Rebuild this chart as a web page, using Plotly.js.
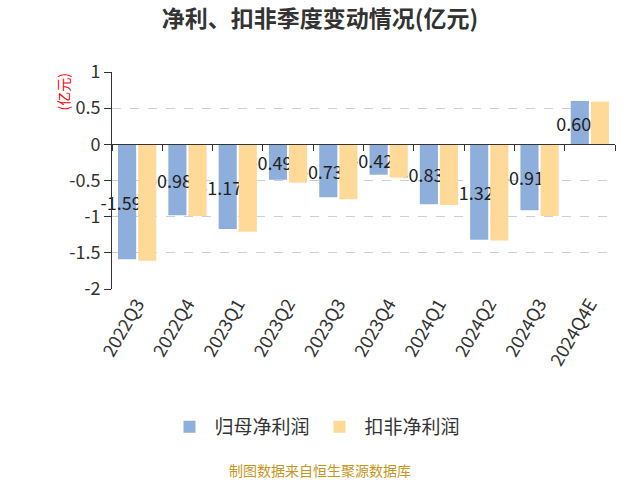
<!DOCTYPE html>
<html><head><meta charset="utf-8">
<script src="https://cdn.plot.ly/plotly-3.0.1.min.js"></script>
<style>html,body{margin:0;padding:0;background:#fff}#chart{width:640px;height:480px}</style>
</head><body><div id="chart"></div>
<script>
var quarters = ['2022Q3','2022Q4','2023Q1','2023Q2','2023Q3','2023Q4','2024Q1','2024Q2','2024Q3','2024Q4E'];
var netProfit = [-1.59,-0.98,-1.17,-0.49,-0.73,-0.42,-0.83,-1.32,-0.91,0.60];
var deductedProfit = [-1.61,-0.99,-1.21,-0.53,-0.76,-0.46,-0.84,-1.33,-0.99,0.59];
var yTickVals = [1,0.5,0,-0.5,-1,-1.5,-2];
var yTickText = ['1','0.5','0','-0.5','-1','-1.5','-2'];
var seriesNames = ['归母净利润','扣非净利润'];

var FONT = '"Noto Sans CJK SC", "Noto Sans", sans-serif';
// labels sit slightly left of the blue bar centre (right-padded with no-break spaces)
var PAD = '\u00a0\u00a0\u00a0';
var netLabels = netProfit.map(function(v){return v.toFixed(2) + PAD;});

var traces = [
  {type:'bar', name:seriesNames[0], x:quarters, y:netProfit, xaxis:'x', yaxis:'y',
   marker:{color:'#8eaedb'}, text:netLabels, textposition:'inside', insidetextanchor:'middle',
   textangle:0, constraintext:'none', cliponaxis:false, textfont:{size:18, color:'#222', family:FONT},
   hoverinfo:'x+y'},
  {type:'bar', name:seriesNames[1], x:quarters, y:deductedProfit, xaxis:'x', yaxis:'y',
   marker:{color:'#ffd997'}, hoverinfo:'x+y'},
  {type:'scatter', mode:'markers', x:quarters, y:netProfit, xaxis:'x2', yaxis:'y',
   marker:{opacity:0}, showlegend:false, hoverinfo:'skip'}
];

var layout = {
  width:640, height:480,
  margin:{l:112, r:25, t:72, b:191},
  paper_bgcolor:'#fff', plot_bgcolor:'#fff',
  font:{family:FONT, color:'#333'},
  title:{text:'<b>净利、扣非季度变动情况(亿元)</b>', x:0.5, xref:'container', y:1-19/480, yanchor:'middle',
         font:{size:23, color:'#333', family:FONT}},
  barmode:'group', bargap:0.2, bargroupgap:0.1,
  uniformtext:{mode:'show', minsize:18},
  showlegend:true,
  legend:{orientation:'h', x:0.4036, xanchor:'center', y:(289-427)/217, yanchor:'middle',
          font:{size:19, color:'#333', family:FONT}, itemwidth:40, traceorder:'normal'},
  xaxis:{type:'category', range:[-0.5,9.5], anchor:'free', position:2/3,
         showline:true, linecolor:'#333', linewidth:1, ticks:'outside', ticklen:6, tickcolor:'#333',
         tickson:'boundaries', showticklabels:false, showgrid:false, zeroline:false, fixedrange:true},
  xaxis2:{type:'category', range:[-0.5,9.5], overlaying:'x', anchor:'y', side:'bottom',
          showline:false, ticks:'', showgrid:false, zeroline:false, tickangle:-60,
          tickfont:{size:18, color:'#333', family:FONT}},
  yaxis:{range:[-2,1], tickvals:yTickVals, ticktext:yTickText, showline:true, linecolor:'#333',
         ticks:'outside', ticklen:7, tickcolor:'#333', showgrid:true, gridcolor:'#cfcfcf', griddash:'dash',
         zeroline:false, tickfont:{size:18, color:'#333', family:FONT}},
  annotations:[
    {text:'(亿元)', xref:'paper', yref:'paper', x:-0.0994, y:(289-92.5)/217, textangle:-90, showarrow:false,
     font:{size:14, color:'#ff0000', family:FONT}, xanchor:'center', yanchor:'middle'},
    {text:'制图数据来自恒生聚源数据库', xref:'paper', yref:'paper', x:0.4135, y:(289-470)/217, showarrow:false,
     font:{size:14, color:'#c8951e', family:FONT}, xanchor:'center', yanchor:'middle'}
  ]
};
Plotly.newPlot('chart', traces, layout, {staticPlot:true});
</script></body></html>
